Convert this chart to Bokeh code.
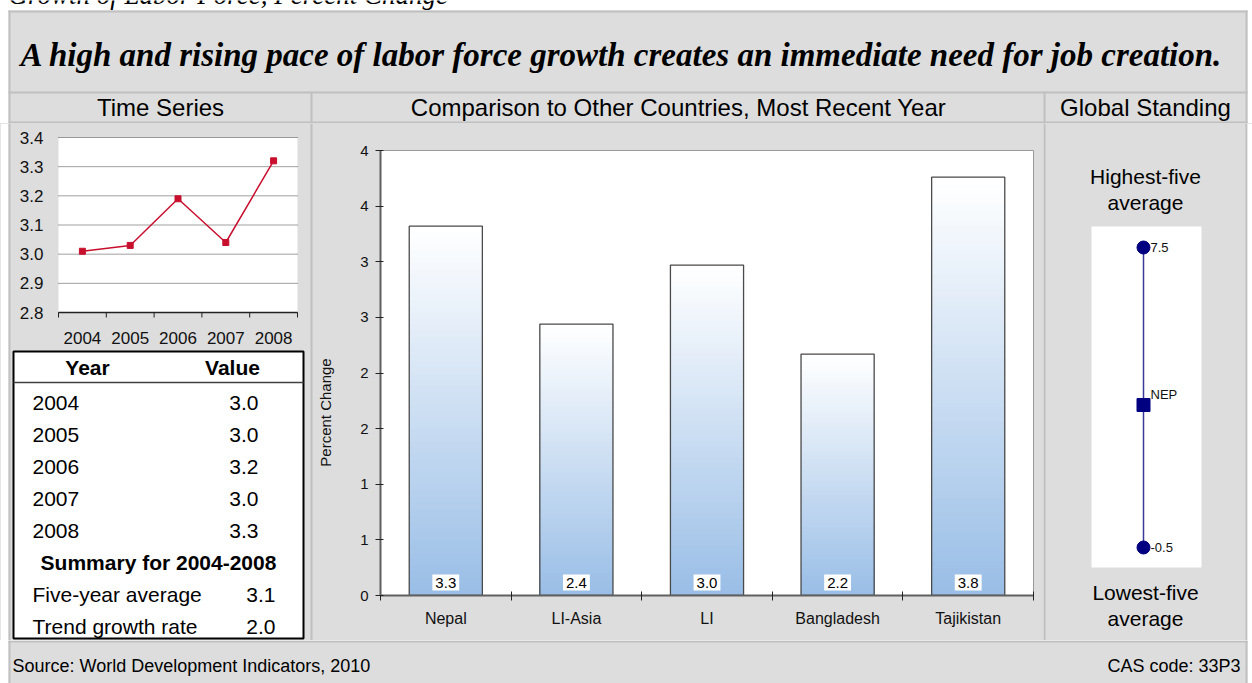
import numpy as np
from bokeh.plotting import figure
from bokeh.layouts import row, column
from bokeh.models import Range1d, FixedTicker
from bokeh.core.properties import value
from bokeh.embed import file_html
from bokeh.resources import INLINE

# ---------------- data ----------------
years = ["2004", "2005", "2006", "2007", "2008"]
labor_growth = [3.01, 3.03, 3.19, 3.04, 3.32]
ts_yticks = [2.8, 2.9, 3.0, 3.1, 3.2, 3.3, 3.4]
ts_ytick_labels = ["2.8", "2.9", "3.0", "3.1", "3.2", "3.3", "3.4"]
summary_labels = ["Five-year average", "Trend growth rate"]
summary_values = [3.1, 2.0]

countries = ["Nepal", "LI-Asia", "LI", "Bangladesh", "Tajikistan"]
country_values = [3.32, 2.44, 2.97, 2.17, 3.76]
bar_yticks = [0, 0.5, 1, 1.5, 2, 2.5, 3, 3.5, 4]
bar_ytick_labels = ["0", "1", "1", "2", "2", "3", "3", "4", "4"]

global_ends = [-0.5, 7.5]
global_end_labels = ["-0.5", "7.5"]
country_code = "NEP"
country_global_value = 3.3

# ---------------- style ----------------
SANS = "Liberation Sans"
SERIF = "Liberation Serif"
BG = "#dddddd"
LINE = "#c0c0c0"
RED = "#c8102e"
NAVY = "#000080"


def canvas(w, h, x0, x1, y0, y1, bg):
    p = figure(width=w, height=h, x_range=Range1d(x0, x1), y_range=Range1d(y1, y0),
               output_backend="svg", toolbar_location=None, min_border=0,
               x_axis_location=None, y_axis_location=None, outline_line_color=None,
               background_fill_color=bg, border_fill_color=bg)
    p.grid.visible = False
    return p


def lin_range(v0, p0, v1, p1, f_start, f_end):
    k = (v1 - v0) / (p1 - p0)
    return Range1d(start=v0 + (f_start - p0) * k, end=v0 + (f_end - p0) * k)


def txt(p, xs, ys, texts, size, align="left", baseline="middle", style="normal",
        font=SANS, color="black", **kw):
    p.text(x=xs, y=ys, text=texts, text_font=value(font), text_font_size=size,
           text_align=align, text_baseline=baseline, text_font_style=style,
           text_color=color, **kw)


# ---------------- header ----------------
hdr = canvas(1252, 123, 0, 1252, 0, 123, "white")
hdr.quad(left=8, right=1247, top=10, bottom=123, fill_color=BG, line_color=None)
hdr.quad(left=[8, 8, 1245, 8, 8, 310, 1043], right=[1247, 10, 1247, 1247, 1247, 312, 1045],
         top=[10, 10, 10, 91, 121, 91, 91], bottom=[12, 123, 123, 93, 123, 123, 123],
         fill_color=LINE, line_color=None)
txt(hdr, [8], [-6], ["Growth of Labor Force, Percent Change"], "27px",
    baseline="alphabetic", style="italic", font=SERIF)
txt(hdr, [20], [54], ["A high and rising pace of labor force growth creates an immediate need for job creation."],
    "33px", baseline="alphabetic", style="bold italic", font=SERIF)
txt(hdr, [160, 678, 1145], [107, 107, 107],
    ["Time Series", "Comparison to Other Countries, Most Recent Year", "Global Standing"],
    "24px", align="center")

# ---------------- left panel: time series + table + bar-chart y title ----------------
lp = canvas(342, 517, 0, 342, 123, 640, BG)
lp.quad(left=[0, 8, 310], right=[8, 10, 312], top=[123] * 3, bottom=[640] * 3,
        fill_color=["white", LINE, LINE], line_color=None)
lp.extra_x_ranges = {"tsx": lin_range(0, 58, len(years), 297, 0, 342)}
lp.extra_y_ranges = {"tsy": lin_range(ts_yticks[0], 312, ts_yticks[-1], 137, 640, 123)}
TS = dict(x_range_name="tsx", y_range_name="tsy")
PXY = 175 / (ts_yticks[-1] - ts_yticks[0])   # pixels per unit (y)
xs = [i + 0.5 for i in range(len(years))]
xb = list(range(len(years) + 1))
lp.quad(left=[0], right=[len(years)], bottom=[ts_yticks[0]], top=[ts_yticks[-1]],
        fill_color="white", line_color=None, **TS)
lp.segment(x0=[0] * len(ts_yticks), x1=[len(years)] * len(ts_yticks), y0=ts_yticks, y1=ts_yticks,
           line_color="#404040", line_dash="1 1", line_width=1, **TS)
lp.segment(x0=[0], x1=[len(years)], y0=[ts_yticks[0]], y1=[ts_yticks[0]],
           line_color="#222222", line_width=1.5, **TS)
lp.segment(x0=xb, x1=xb, y0=[ts_yticks[0]] * len(xb), y1=[ts_yticks[0] - 5 / PXY] * len(xb),
           line_color="#222222", line_width=1, **TS)
lp.text(x=xs, y=[ts_yticks[0]] * len(xs), text=years, y_offset=25, text_align="center",
        text_baseline="middle", text_font=value(SANS), text_font_size="17px",
        text_color="#111111", **TS)
lp.text(x=[0] * len(ts_yticks), y=ts_yticks, text=ts_ytick_labels, x_offset=-15, text_align="right",
        text_baseline="middle", text_font=value(SANS), text_font_size="17px",
        text_color="#111111", **TS)
lp.line(xs, labor_growth, line_color=RED, line_width=1.5, **TS)
lp.scatter(xs, labor_growth, marker="square", size=6, fill_color=RED, line_color=RED, **TS)

# table
lp.quad(left=13, right=303, top=351, bottom=638, fill_color="white", line_color="black", line_width=2)
lp.segment(x0=[13], y0=[382], x1=[303], y1=[382], line_color="#404040", line_width=1.5)
txt(lp, [87, 232], [367, 367], ["Year", "Value"], "21px", align="center", style="bold")
row_y = [402 + 32 * i for i in range(len(years))]
txt(lp, [32] * len(years), row_y, years, "21px")
txt(lp, [258] * len(years), row_y, [f"{v:.1f}" for v in labor_growth], "21px", align="right")
txt(lp, [158], [562], [f"Summary for {years[0]}-{years[-1]}"], "21px", align="center", style="bold")
txt(lp, [32, 32], [594, 626], summary_labels, "21px")
txt(lp, [275, 275], [594, 626], [f"{v:.1f}" for v in summary_values], "21px", align="right")

# y-axis title of the bar chart
lp.text(x=[325], y=[412], text=["Percent Change"], angle=np.pi / 2, text_align="center",
        text_baseline="middle", text_font=value(SANS), text_font_size="15px", text_color="#111111")

# ---------------- bar chart ----------------
bar = figure(width=701, height=517, x_range=Range1d(0, 5), y_range=Range1d(0, 4),
             output_backend="svg", toolbar_location=None,
             min_border_left=38, min_border_right=10, min_border_top=27, min_border_bottom=45,
             background_fill_color="white", border_fill_color=BG,
             outline_line_color="#999999", outline_line_width=1)
bx = [i + 0.5 for i in range(len(countries))]
BW = 0.56
blue = np.array([0x98, 0xBD, 0xE6], dtype=float)
white = np.array([255, 255, 255], dtype=float)
n = 60
L, R, B, T, C = [], [], [], [], []
for x, v in zip(bx, country_values):
    for k in range(n):
        frac = (n - k) / n
        c = blue + (white - blue) * frac
        L.append(x - BW / 2); R.append(x + BW / 2)
        B.append(0); T.append(v * frac)
        C.append("#%02x%02x%02x" % tuple(int(round(q)) for q in c))
bar.quad(left=L, right=R, bottom=B, top=T, fill_color=C, line_color=None)
bar.vbar(x=bx, top=country_values, width=BW, fill_color=None, line_color="#4a4a4a", line_width=1.3)
bar.text(x=bx, y=[0] * len(bx), text=[f"{v:.1f}" for v in country_values],
         text_font=value(SANS), text_font_size="15px", text_align="center", text_baseline="bottom",
         y_offset=-5, background_fill_color="white", padding=3, text_color="black")
bar.xaxis.ticker = FixedTicker(ticks=bx, minor_ticks=list(range(len(countries) + 1)))
bar.xaxis.major_label_overrides = {x: c for x, c in zip(bx, countries)}
bar.xaxis.major_tick_line_color = None
bar.xaxis.major_tick_in = 0
bar.xaxis.major_tick_out = 0
bar.xaxis.minor_tick_line_color = "#222222"
bar.xaxis.minor_tick_in = 4
bar.xaxis.minor_tick_out = 5
bar.xaxis.axis_line_color = "#606060"
bar.xaxis.axis_line_width = 2
bar.xaxis.major_label_standoff = 9
bar.xaxis.major_label_text_font = SANS
bar.xaxis.major_label_text_font_size = "16px"
bar.xaxis.major_label_text_color = "#111111"
bar.yaxis.ticker = FixedTicker(ticks=bar_yticks)
bar.yaxis.major_label_overrides = {t: l for t, l in zip(bar_yticks, bar_ytick_labels)}
bar.yaxis.axis_line_color = "#606060"
bar.yaxis.axis_line_width = 2
bar.yaxis.major_tick_line_color = "#222222"
bar.yaxis.major_tick_in = 3
bar.yaxis.major_tick_out = 5
bar.yaxis.minor_tick_line_color = None
bar.yaxis.major_label_standoff = 7
bar.yaxis.major_label_text_font = SANS
bar.yaxis.major_label_text_font_size = "15px"
bar.yaxis.major_label_text_color = "#111111"
bar.grid.visible = False

# ---------------- global standing ----------------
gp = canvas(209, 517, 1043, 1252, 123, 640, BG)
gp.quad(left=[1043, 1245, 1247, 1091], right=[1045, 1247, 1252, 1201],
        top=[123, 123, 123, 226], bottom=[640, 640, 640, 567],
        fill_color=[LINE, LINE, "white", "white"], line_color=None)
gp.extra_y_ranges = {"gv": lin_range(global_ends[0], 547, global_ends[1], 247, 640, 123)}
GX = 1143
gp.segment(x0=[GX], y0=[global_ends[0]], x1=[GX], y1=[global_ends[1]], line_color="#3a3a99",
           line_width=1.5, y_range_name="gv")
gp.scatter([GX, GX], global_ends, marker="circle", size=13, fill_color=NAVY, line_color=NAVY,
           y_range_name="gv")
gp.scatter([GX], [country_global_value], marker="square", size=13, fill_color=NAVY, line_color=NAVY,
           y_range_name="gv")
gp.text(x=[GX, GX], y=global_ends, text=global_end_labels, x_offset=7, y_range_name="gv",
        text_font=value(SANS), text_font_size="13px", text_baseline="middle", text_color="#111111")
gp.text(x=[GX], y=[country_global_value], text=[country_code], x_offset=7, y_offset=-11,
        y_range_name="gv", text_font=value(SANS), text_font_size="13px", text_baseline="middle",
        text_color="#111111")
txt(gp, [1145, 1145], [176, 202], ["Highest-five", "average"], "21px", align="center")
txt(gp, [1145, 1145], [592, 618], ["Lowest-five", "average"], "21px", align="center")

# ---------------- footer ----------------
ft = canvas(1252, 43, 0, 1252, 640, 683, "white")
ft.quad(left=8, right=1247, top=640, bottom=683, fill_color=BG, line_color=None)
ft.quad(left=[8, 8, 1245], right=[1247, 10, 1247], top=[640, 640, 640], bottom=[642, 683, 683],
        fill_color=LINE, line_color=None)
txt(ft, [12], [665], ["Source: World Development Indicators, 2010"], "18px")
txt(ft, [1240], [665], ["CAS code: 33P3"], "18px", align="right")

middle = row(column(lp), column(bar), column(gp), spacing=0, styles={"background-color": BG})
page = column(hdr, middle, ft, spacing=0)

open("out.html", "w").write(file_html(page, INLINE))
